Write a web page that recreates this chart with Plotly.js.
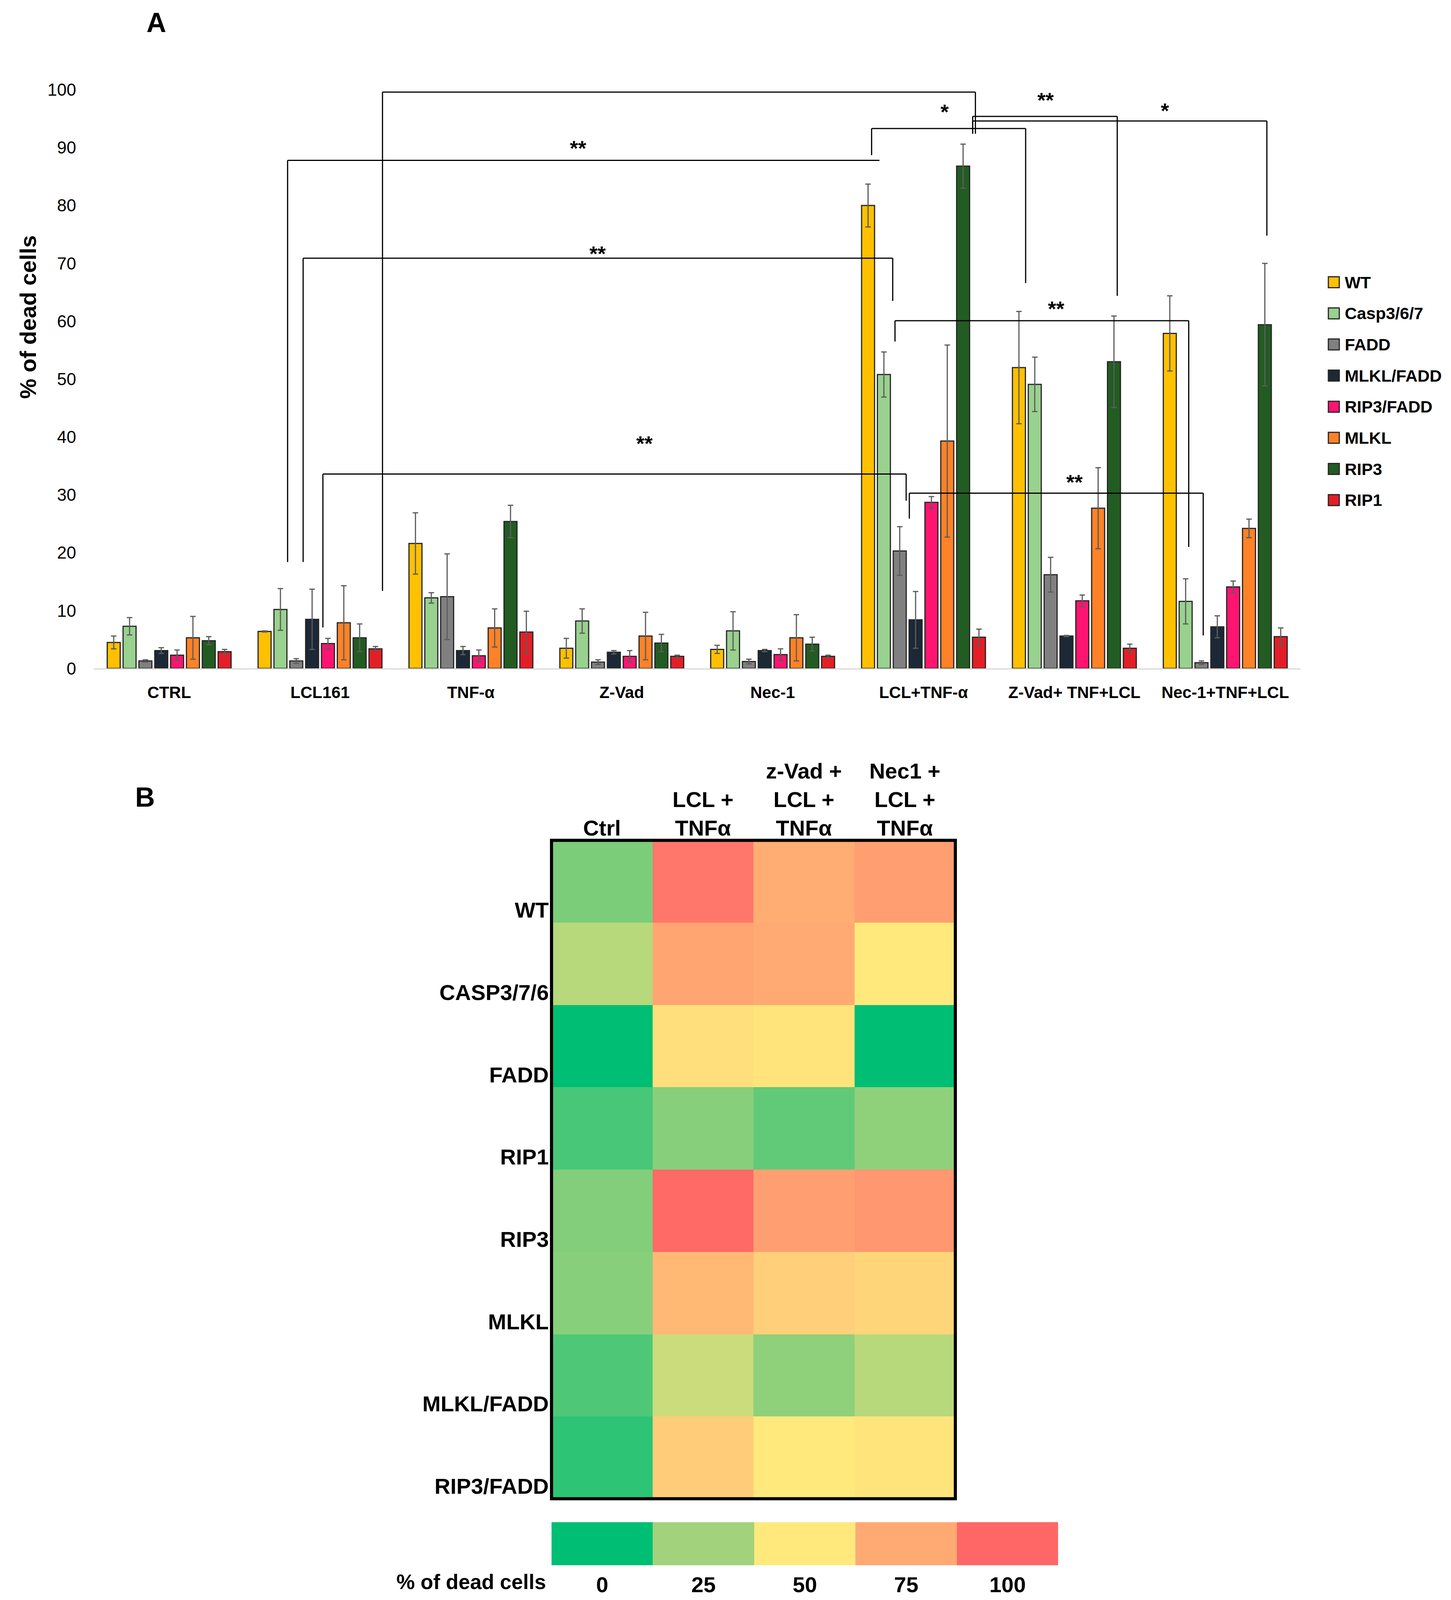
<!DOCTYPE html>
<html>
<head>
<meta charset="utf-8">
<script src="https://cdn.plot.ly/plotly-3.0.1.min.js"></script>
<style>html,body{margin:0;padding:0;background:#fff;overflow:hidden}</style>
</head>
<body>
<div id="chart"></div>
<script>
// panel A: % dead cells per treatment and cell line
var treatments = ['CTRL', 'LCL161', 'TNF-α', 'Z-Vad', 'Nec-1', 'LCL+TNF-α', 'Z-Vad+ TNF+LCL', 'Nec-1+TNF+LCL'];
var cellLines = ['WT', 'Casp3/6/7', 'FADD', 'MLKL/FADD', 'RIP3/FADD', 'MLKL', 'RIP3', 'RIP1'];
var lineColors = ['#FFC000', '#99D18F', '#808080', '#1C2836', '#FF1470', '#FF8226', '#225C22', '#E41E26'];

var wt        = [4.5, 6.4, 21.6, 3.5, 3.3, 80.0, 52.0, 57.9];
var casp      = [7.3, 10.2, 12.2, 8.2, 6.5, 50.8, 49.1, 11.6];
var fadd      = [1.3, 1.3, 12.4, 1.1, 1.2, 20.3, 16.2, 1.0];
var mlklFadd  = [3.1, 8.5, 3.1, 2.8, 3.1, 8.4, 5.6, 7.2];
var rip3Fadd  = [2.3, 4.3, 2.2, 2.1, 2.4, 28.7, 11.7, 14.1];
var mlkl      = [5.3, 7.9, 7.0, 5.6, 5.3, 39.3, 27.7, 24.2];
var rip3      = [4.8, 5.3, 25.4, 4.4, 4.2, 86.8, 53.0, 59.4];
var rip1      = [2.9, 3.4, 6.3, 2.1, 2.1, 5.4, 3.5, 5.5];

var wtErr       = [1.1, 0.1, 5.3, 1.7, 0.7, 3.7, 9.7, 6.5];
var caspErr     = [1.5, 3.6, 0.9, 2.1, 3.3, 3.9, 4.7, 3.9];
var faddErr     = [0.2, 0.4, 7.4, 0.4, 0.4, 4.2, 3.0, 0.3];
var mlklFaddErr = [0.5, 5.2, 0.7, 0.3, 0.2, 4.9, 0.1, 1.9];
var rip3FaddErr = [0.9, 0.9, 1.0, 1.0, 1.0, 1.0, 1.0, 1.0];
var mlklErr     = [3.7, 6.4, 3.3, 4.1, 4.0, 16.6, 7.0, 1.6];
var rip3Err     = [0.7, 2.4, 2.8, 1.5, 1.2, 3.8, 7.9, 10.6];
var rip1Err     = [0.4, 0.4, 3.6, 0.2, 0.2, 1.4, 0.7, 1.5];

var series = [wt, casp, fadd, mlklFadd, rip3Fadd, mlkl, rip3, rip1];
var seriesErr = [wtErr, caspErr, faddErr, mlklFaddErr, rip3FaddErr, mlklErr, rip3Err, rip1Err];

// significance brackets: [xLeft, yLeftFoot, yTop, xRight, yRightFoot, label, labelX, labelY]
var brackets = [
  [1.414, 13.4, 99.6, 5.344, 92.4, '**', 3.45, 102.4],
  [0.785, 18.4, 87.8, 4.708, 87.8, '**', 2.71, 89.9],
  [4.656, 88.7, 93.3, 5.677, 66.6, '*', 5.14, 96.2],
  [5.326, 92.4, 95.4, 6.284, 64.4, '**', 5.81, 98.2],
  [5.326, 92.4, 94.6, 7.276, 74.8, '*', 6.60, 96.4],
  [0.888, 18.4, 70.9, 4.796, 63.5, '**', 2.84, 71.7],
  [4.811, 56.5, 60.1, 6.758, 21.0, '**', 5.88, 62.2],
  [1.019, 7.1, 33.6, 4.885, 29.0, '**', 3.15, 38.9],
  [4.906, 25.9, 30.3, 6.854, 5.7, '**', 6.00, 32.2]
];

// panel B: heatmap
var hmCols = ['Ctrl', 'LCL +<br>TNFα', 'z-Vad +<br>LCL +<br>TNFα', 'Nec1 +<br>LCL +<br>TNFα'];
var hmRows = ['WT', 'CASP3/7/6', 'FADD', 'RIP1', 'RIP3', 'MLKL', 'MLKL/FADD', 'RIP3/FADD'];
var hmValues = [
  [19, 94, 74, 79],
  [31, 77, 75, 50],
  [0, 54, 52, 0],
  [11, 21, 15, 22],
  [20, 99, 79, 82],
  [21, 69, 60, 58],
  [12, 36, 22, 31],
  [7, 61, 50, 52]
];
var scaleSteps = [0, 25, 50, 75, 100];
var scaleLabels = ['0', '25', '50', '75', '100'];

var colorscale = [
  [0, 'rgb(0,190,115)'],
  [0.25, 'rgb(162,210,124)'],
  [0.5, 'rgb(255,233,125)'],
  [0.75, 'rgb(255,170,115)'],
  [1, 'rgb(255,103,103)']
];

var sans = 'Liberation Sans, Arial, sans-serif';

var W = window.innerWidth || 3715;
var H = window.innerHeight || 4473;
var vScale = H / 4473;

var data = [];
for (var i = 0; i < cellLines.length; i++) {
  data.push({
    type: 'bar',
    name: cellLines[i],
    x: treatments,
    y: series[i],
    xaxis: 'x', yaxis: 'y',
    showlegend: false,
    marker: {color: lineColors[i], line: {color: '#262626', width: 3}},
    error_y: {type: 'data', array: seriesErr[i], visible: true, color: '#5c5c5c', thickness: 3, width: 7}
  });
}

data.push({
  type: 'heatmap',
  x: hmCols, y: hmRows, z: hmValues,
  xaxis: 'x2', yaxis: 'y2',
  zmin: 0, zmax: 100,
  colorscale: colorscale,
  showscale: false,
  hoverinfo: 'skip'
});

data.push({
  type: 'heatmap',
  x: scaleLabels, y: ['scale'], z: [scaleSteps],
  xaxis: 'x3', yaxis: 'y3',
  zmin: 0, zmax: 100,
  colorscale: colorscale,
  showscale: false,
  hoverinfo: 'skip'
});

var shapes = [];
var annotations = [];
brackets.forEach(function (b) {
  var ln = {color: '#000', width: 3};
  shapes.push({type: 'line', xref: 'x', yref: 'y', x0: b[0], x1: b[0], y0: b[1], y1: b[2], line: ln});
  shapes.push({type: 'line', xref: 'x', yref: 'y', x0: b[0], x1: b[3], y0: b[2], y1: b[2], line: ln});
  if (b[4] !== b[2]) {
    shapes.push({type: 'line', xref: 'x', yref: 'y', x0: b[3], x1: b[3], y0: b[2], y1: b[4], line: ln});
  }
  annotations.push({xref: 'x', yref: 'y', x: b[6], y: b[7], xanchor: 'center', yanchor: 'middle',
    text: b[5], showarrow: false, font: {family: sans, size: 54, color: '#000', weight: 700}});
});

// legend: square swatch + label per cell line
var swatchW = 28 / 3715, swatchH = 28 / H;
cellLines.forEach(function (name, k) {
  var yc = 1 - (789 + 87 * k) / 4473;
  shapes.push({type: 'rect', xref: 'paper', yref: 'paper',
    x0: 3401 / 3715, x1: 3401 / 3715 + swatchW, y0: yc - swatchH / 2, y1: yc + swatchH / 2,
    fillcolor: lineColors[k], line: {color: '#262626', width: 3}});
  annotations.push({xref: 'paper', yref: 'paper', x: 3441 / 3715, y: yc, xanchor: 'left', yanchor: 'middle',
    text: name, showarrow: false, font: {family: sans, size: 43, color: '#000', weight: 700}});
});

shapes.push({type: 'rect', xref: 'x2 domain', yref: 'y2 domain', x0: 0, x1: 1, y0: 0, y1: 1,
  line: {color: '#000', width: 8}});

annotations.push({xref: 'paper', yref: 'paper', x: 0.1077, y: 0.9859, xanchor: 'center', yanchor: 'middle',
  text: 'A', showarrow: false, font: {family: sans, size: 70, color: '#000', weight: 700}});
annotations.push({xref: 'paper', yref: 'paper', x: 0.1001, y: 0.5017, xanchor: 'center', yanchor: 'middle',
  text: 'B', showarrow: false, font: {family: sans, size: 70, color: '#000', weight: 700}});
annotations.push({xref: 'paper', yref: 'paper', x: 0.0191, y: 0.802, xanchor: 'center', yanchor: 'middle',
  textangle: -90, text: '% of dead cells', showarrow: false,
  font: {family: sans, size: 58, color: '#000', weight: 700}});
annotations.push({xref: 'paper', yref: 'paper', x: 0.3769, y: 0.0114, xanchor: 'right', yanchor: 'middle',
  text: '% of dead cells', showarrow: false, font: {family: sans, size: 53, color: '#000', weight: 700}});

var layout = {
  width: W,
  height: H,
  margin: {l: 0, r: 0, t: 0, b: 0},
  paper_bgcolor: '#fff',
  plot_bgcolor: 'rgba(0,0,0,0)',
  barmode: 'group',
  bargap: 0.16,
  bargroupgap: 0.18,
  showlegend: false,
  xaxis: {
    domain: [0.0646, 0.8964], anchor: 'y', type: 'category', range: [-0.5, 7.5],
    showline: true, linecolor: '#d9d9d9', linewidth: 3, ticks: '', showgrid: false,
    ticklabelstandoff: 22,
    tickfont: {family: sans, size: 42, color: '#000', weight: 700}
  },
  yaxis: {
    domain: [0.5822, 0.9439], anchor: 'x', range: [0, 100], dtick: 10,
    showline: false, showgrid: false, zeroline: false, ticks: '',
    ticklabelstandoff: 44,
    tickfont: {family: sans, size: 44, color: '#000'}
  },
  xaxis2: {
    domain: [0.3801, 0.6584], anchor: 'y2', side: 'top', type: 'category',
    showline: false, showgrid: false, zeroline: false, ticks: '',
    tickfont: {family: sans, size: 56, color: '#000', weight: 700}
  },
  yaxis2: {
    domain: [0.0633, 0.4748], anchor: 'x2', type: 'category', autorange: 'reversed',
    showline: false, showgrid: false, zeroline: false, ticks: '',
    ticklabelshift: -Math.round(80 * vScale), ticklabelstandoff: 6,
    tickfont: {family: sans, size: 56, color: '#000', weight: 700}
  },
  xaxis3: {
    domain: [0.3801, 0.7293], anchor: 'y3', type: 'category',
    showline: false, showgrid: false, zeroline: false, ticks: '',
    ticklabelstandoff: 12,
    tickfont: {family: sans, size: 56, color: '#000', weight: 700}
  },
  yaxis3: {
    domain: [0.0217, 0.0487], anchor: 'x3', showticklabels: false,
    showline: false, showgrid: false, zeroline: false, ticks: ''
  },
  shapes: shapes,
  annotations: annotations
};

Plotly.newPlot('chart', data, layout, {staticPlot: true});
</script>
</body>
</html>
